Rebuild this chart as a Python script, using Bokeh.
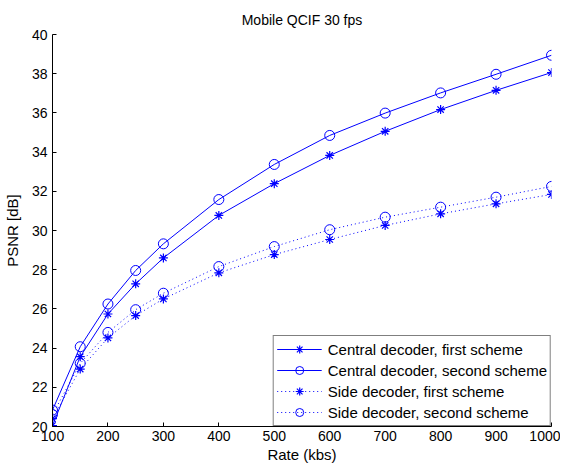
from bokeh.plotting import figure
from bokeh.embed import file_html
from bokeh.resources import INLINE
from bokeh.models import FixedTicker, Range1d

rates = [100, 150, 200, 250, 300, 400, 500, 600, 700, 800, 900, 1000]
central_first = [20.05, 23.56, 25.74, 27.28, 28.60, 30.77, 32.39, 33.83, 35.06, 36.17, 37.15, 38.06]
central_second = [20.84, 24.07, 26.25, 27.96, 29.32, 31.58, 33.37, 34.85, 35.99, 37.02, 37.97, 38.94]
side_first = [20.40, 22.93, 24.52, 25.66, 26.51, 27.84, 28.77, 29.54, 30.26, 30.85, 31.36, 31.84]
side_second = [20.61, 23.22, 24.80, 25.96, 26.80, 28.16, 29.18, 30.04, 30.68, 31.19, 31.70, 32.25]

x_ticks = [100, 200, 300, 400, 500, 600, 700, 800, 900, 1000]
y_ticks = [20, 22, 24, 26, 28, 30, 32, 34, 36, 38, 40]

FONT = "Liberation Sans"
BLUE = "#0000ff"

p = figure(width=560, height=466, output_backend="svg", toolbar_location=None,
           x_range=Range1d(100, 1000), y_range=Range1d(20, 40),
           title="Mobile QCIF 30 fps",
           min_border_left=52, min_border_right=9, min_border_top=34, min_border_bottom=40)

p.title.align = "center"
p.title.text_font = FONT
p.title.text_font_size = "14px"
p.title.text_font_style = "normal"
p.title.text_color = "#000000"
p.title.standoff = 13

p.outline_line_color = None
p.xgrid.visible = False
p.ygrid.visible = False

for ax in (p.xaxis[0], p.yaxis[0]):
    ax.axis_line_color = "#000000"
    ax.major_tick_line_color = "#000000"
    ax.major_tick_in = 4
    ax.major_tick_out = 0
    ax.minor_tick_line_color = None
    ax.major_label_text_font = FONT
    ax.major_label_text_font_size = "14px"
    ax.major_label_text_color = "#000000"
    ax.axis_label_text_font = FONT
    ax.axis_label_text_font_size = "15px"
    ax.axis_label_text_font_style = "normal"
    ax.axis_label_text_color = "#000000"

p.xaxis[0].ticker = FixedTicker(ticks=x_ticks)
p.yaxis[0].ticker = FixedTicker(ticks=y_ticks)
p.xaxis[0].axis_label = "Rate (kbs)"
p.yaxis[0].axis_label = "PSNR [dB]"
p.xaxis[0].major_label_standoff = 4
p.yaxis[0].major_label_standoff = 5
p.xaxis[0].axis_label_standoff = 2
p.yaxis[0].axis_label_standoff = 8

series = [
    (central_first, "solid", "asterisk", "Central decoder, first scheme"),
    (central_second, "solid", "circle", "Central decoder, second scheme"),
    (side_first, "1 3", "asterisk", "Side decoder, first scheme"),
    (side_second, "1 3", "circle", "Side decoder, second scheme"),
]
for ys, dash, marker, label in series:
    p.line(rates, ys, line_color=BLUE, line_width=1, line_dash=dash, legend_label=label)
    if marker == "circle":
        p.scatter(rates, ys, marker="circle", size=10, fill_color=None, line_color=BLUE,
                  line_width=1, legend_label=label)
    else:
        p.scatter(rates, ys, marker="asterisk", size=9, line_color=BLUE,
                  line_width=1.2, legend_label=label)

lg = p.legend[0]
lg.location = "bottom_right"
lg.margin = 0
lg.padding = 3
lg.spacing = 1
lg.label_height = 20
lg.glyph_height = 20
lg.glyph_width = 45
lg.label_standoff = 6
lg.label_text_font = FONT
lg.label_text_font_size = "15px"
lg.label_text_color = "#000000"
lg.border_line_color = "#000000"
lg.border_line_width = 1
lg.background_fill_color = "#ffffff"
lg.background_fill_alpha = 1.0

open("out.html", "w").write(file_html(p, INLINE))
